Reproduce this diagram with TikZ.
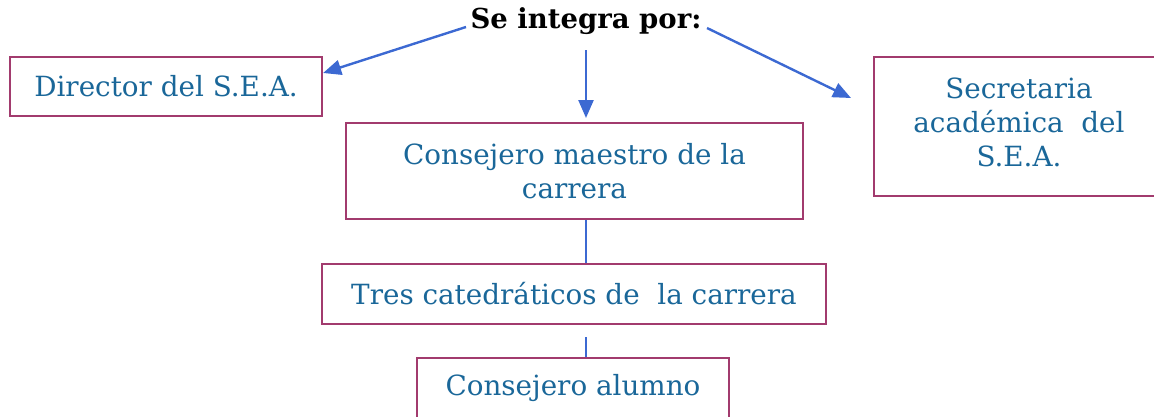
\documentclass[tikz,border=0pt]{standalone}
\usepackage{fontspec}
\setmainfont{DejaVu Serif}
\usetikzlibrary{arrows.meta}
\definecolor{boxred}{HTML}{A23B6E}
\definecolor{txtblue}{HTML}{1A6799}
\definecolor{arrblue}{HTML}{3C69D2}
\tikzset{
  box/.style={draw=boxred, line width=2.2pt, rectangle, inner sep=0pt, align=center,
    text=txtblue, font=\fontsize{27.8}{34}\selectfont},
  arr/.style={draw=arrblue, line width=2.4pt, -{Triangle[length=18pt,width=15pt]}},
  conn/.style={draw=arrblue, line width=2pt},
}
\begin{document}
\begin{tikzpicture}[x=1pt,y=-1pt]
\useasboundingbox (0,0) rectangle (1154,416);
\node[font=\bfseries\fontsize{27.5}{30}\selectfont, inner sep=0pt] (title) at (586,21) {Se integra por:};
\node[box, minimum width=312pt, minimum height=59pt] (dir) at (166,86.5) {Director del S.E.A.};
\node[box, minimum width=290pt, minimum height=139pt] (sec) at (1019,126.5) {Secretaria\\académica~ del\\S.E.A.\rule[-8pt]{0pt}{0pt}};
\node[box, minimum width=457pt, minimum height=96pt] (mae) at (574.5,171) {Consejero maestro de la\\carrera};
\node[box, minimum width=504pt, minimum height=60pt] (tres) at (574,294) {Tres catedráticos de~ la carrera};
\node[box, minimum width=312pt, minimum height=66pt] (alu) at (573,391) {Consejero alumno\rule[-12pt]{0pt}{0pt}};
\coordinate (ls) at (466,27);
\coordinate (ms) at (586,50);
\coordinate (rs) at (707,28);
\coordinate (rt) at (851,98);
\coordinate (mt) at (586,118);
\coordinate (ax) at (586,0);
\draw[arr] (ls) -- (dir.north east |- 0,73) ;
\draw[arr] (ms) -- (mt);
\draw[arr] (rs) -- (rt);
\draw[conn] (mae.south -| ax) -- (tres.north -| ax);
\draw[conn] ([yshift=-12pt]tres.south -| ax) -- (alu.north -| ax);
\end{tikzpicture}
\end{document}
